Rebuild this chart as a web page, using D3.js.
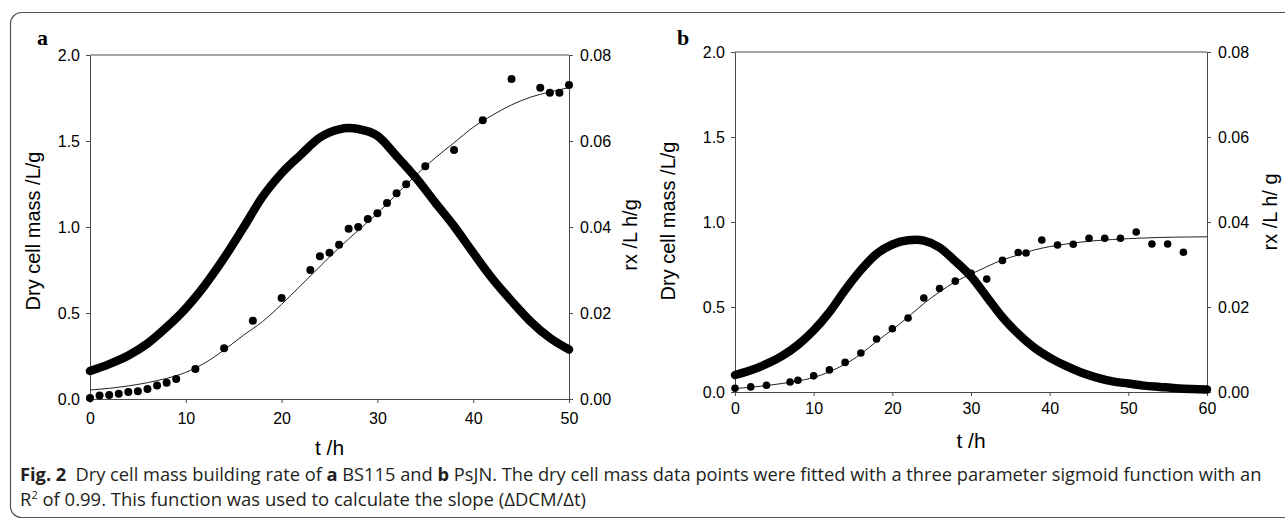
<!DOCTYPE html>
<html>
<head>
<meta charset="utf-8">
<script src="https://cdn.jsdelivr.net/npm/d3@7"></script>
<style>
	html, body { margin: 0; padding: 0; background: #fff; }
	.tick text { font-family: "Liberation Sans", Arial, sans-serif; font-size: 16px; fill: #000; }
	.axis path, .axis line { stroke: #4a4a4a; }
	.label { font-family: "Liberation Sans", Arial, sans-serif; fill: #000; }
	.caption { font-family: "Open Sans", "Noto Sans", sans-serif; fill: #231f20; }
</style>
</head>
<body>
<div class="fig"></div>
<script>
const width = 1285;
const height = 520;

// DATA ----------------------------------------------

// panel a: BS115
const dcmTimeA = [0, 1, 2, 3, 4, 5, 6, 7, 8, 9, 11, 14, 17, 20, 23, 24, 25, 26, 27, 28, 29, 30, 31, 32, 33, 35, 38, 41, 44, 47, 48, 49, 50];
const dcmA = [0.006, 0.02, 0.023, 0.03, 0.04, 0.045, 0.058, 0.078, 0.095, 0.116, 0.174, 0.295, 0.455, 0.587, 0.75, 0.83, 0.85, 0.897, 0.99, 1.0, 1.047, 1.08, 1.14, 1.196, 1.248, 1.353, 1.448, 1.62, 1.86, 1.81, 1.78, 1.78, 1.826];
const fitTimeA = [0, 2, 4, 6, 8, 10, 12, 14, 16, 18, 20, 22, 24, 26, 28, 30, 32, 34, 36, 38, 40, 42, 44, 46, 48, 50];
const fitA = [0.052, 0.062, 0.076, 0.095, 0.12, 0.155, 0.21, 0.285, 0.37, 0.45, 0.55, 0.66, 0.77, 0.88, 0.98, 1.08, 1.19, 1.30, 1.40, 1.49, 1.58, 1.65, 1.71, 1.755, 1.785, 1.81];
const rxTimeA = [0, 2, 4, 6, 8, 10, 12, 14, 16, 18, 20, 22, 24, 26, 27, 28, 30, 32, 34, 36, 38, 40, 42, 44, 46, 48, 50];
const rxA = [0.0065, 0.0081, 0.0101, 0.0129, 0.0167, 0.0211, 0.0265, 0.0328, 0.0398, 0.047, 0.0525, 0.0568, 0.0608, 0.0627, 0.063, 0.0628, 0.0612, 0.0565, 0.0515, 0.0458, 0.0402, 0.034, 0.028, 0.0228, 0.018, 0.0142, 0.0115];

// panel b: PsJN
const dcmTimeB = [0, 2, 4, 7, 8, 10, 12, 14, 16, 18, 20, 22, 24, 26, 28, 30, 32, 34, 36, 37, 39, 41, 43, 45, 47, 49, 51, 53, 55, 57];
const dcmB = [0.022, 0.03, 0.04, 0.059, 0.069, 0.095, 0.13, 0.174, 0.229, 0.312, 0.372, 0.435, 0.553, 0.609, 0.652, 0.698, 0.664, 0.774, 0.821, 0.818, 0.894, 0.865, 0.869, 0.904, 0.904, 0.904, 0.941, 0.871, 0.871, 0.822];
const fitTimeB = [0, 2, 4, 6, 8, 10, 12, 14, 16, 18, 20, 22, 24, 26, 28, 30, 32, 34, 36, 38, 40, 42, 44, 46, 48, 50, 52, 54, 56, 58, 60];
const fitB = [0.02, 0.028, 0.038, 0.05, 0.065, 0.085, 0.119, 0.164, 0.223, 0.298, 0.366, 0.441, 0.52, 0.589, 0.648, 0.694, 0.737, 0.777, 0.806, 0.835, 0.855, 0.87, 0.882, 0.891, 0.897, 0.902, 0.906, 0.909, 0.911, 0.912, 0.913];
const rxTimeB = [0, 2, 4, 6, 8, 10, 12, 14, 16, 18, 20, 22, 23, 24, 26, 28, 30, 32, 34, 36, 38, 40, 42, 44, 46, 48, 50, 52, 54, 56, 58, 60];
const rxB = [0.004, 0.0051, 0.0066, 0.0085, 0.0111, 0.0145, 0.0188, 0.024, 0.0287, 0.0325, 0.0347, 0.0357, 0.0358, 0.0356, 0.034, 0.0308, 0.0272, 0.0224, 0.0176, 0.0137, 0.0105, 0.0081, 0.0062, 0.0046, 0.0034, 0.0025, 0.002, 0.0015, 0.0012, 0.0009, 0.0007, 0.0006];

// ticks
const xTicksA = [0, 10, 20, 30, 40, 50];
const xTicksB = [0, 10, 20, 30, 40, 50, 60];
const dcmTicks = [0, 0.5, 1.0, 1.5, 2.0];
const rxTicks = [0, 0.02, 0.04, 0.06, 0.08];

const zip = (xs, ys) => xs.map((x, i) => ({t: x, v: ys[i]}));

// CHART INIT ----------------------------------------

const svg = d3.select('.fig').append('svg')
	.attr('width', width)
	.attr('height', height);

svg.append('rect')
	.attr('x', 10.5)
	.attr('y', 12.5)
	.attr('width', 1300)
	.attr('height', 505)
	.attr('rx', 11)
	.attr('fill', 'none')
	.attr('stroke', '#555')
	.attr('stroke-width', 1.2);

// PANEL DRAW FUNCTION -------------------------------

function drawPanel(p) {
	const x = d3.scaleLinear().domain([0, p.tMax]).range([p.left, p.right]);
	const yL = d3.scaleLinear().domain([0, 2]).range([p.bottom, p.top]);
	const yR = d3.scaleLinear().domain([0, 0.08]).range([p.bottom, p.top]);

	const g = svg.append('g');

	// top frame line
	g.append('line')
		.attr('x1', x(0)).attr('x2', x(p.tMax))
		.attr('y1', yL(2)).attr('y2', yL(2))
		.attr('stroke', '#4a4a4a');

	g.append('g')
		.attr('class', 'axis')
		.attr('transform', `translate(0, ${p.bottom})`)
		.call(d3.axisBottom(x).tickValues(p.xTicks).tickFormat(d3.format('d')).tickSize(4).tickSizeOuter(0).tickPadding(p.xPad));

	g.append('g')
		.attr('class', 'axis')
		.attr('transform', `translate(${p.left}, 0)`)
		.call(d3.axisLeft(yL).tickValues(dcmTicks).tickFormat(d3.format('.1f')).tickSize(4).tickSizeOuter(0).tickPadding(6));

	g.append('g')
		.attr('class', 'axis')
		.attr('transform', `translate(${p.right}, 0)`)
		.call(d3.axisRight(yR).tickValues(rxTicks).tickFormat(d3.format('.2f')).tickSize(4).tickSizeOuter(0).tickPadding(7));

	// sigmoid fit
	g.append('path')
		.datum(zip(p.fitTime, p.fit))
		.attr('fill', 'none')
		.attr('stroke', '#222')
		.attr('stroke-width', 1)
		.attr('d', d3.line().x(d => x(d.t)).y(d => yL(d.v)).curve(d3.curveMonotoneX));

	// dry cell mass points
	g.selectAll('.dcm')
		.data(zip(p.dcmTime, p.dcm))
		.enter()
		.append('circle')
		.attr('class', 'dcm')
		.attr('cx', d => x(d.t))
		.attr('cy', d => yL(d.v))
		.attr('r', p.r)
		.attr('fill', '#000');

	// rx, drawn as dense dots in the original -> thick line
	g.append('path')
		.datum(zip(p.rxTime, p.rx))
		.attr('fill', 'none')
		.attr('stroke', '#000')
		.attr('stroke-width', 8.5)
		.attr('stroke-linecap', 'round')
		.attr('stroke-linejoin', 'round')
		.attr('d', d3.line().x(d => x(d.t)).y(d => yR(d.v)).curve(d3.curveMonotoneX));

	// labels
	g.append('text')
		.attr('class', 'label')
		.attr('x', p.tagX)
		.attr('y', 45)
		.attr('font-weight', 'bold')
		.attr('font-size', 22)
		.style('font-family', '"Liberation Serif", "DejaVu Serif", serif')
		.text(p.tag);

	g.append('text')
		.attr('class', 'label')
		.attr('transform', `translate(${p.yLabelX}, ${p.yLabelY}) rotate(-90)`)
		.attr('text-anchor', 'middle')
		.attr('font-size', 20)
		.text('Dry cell mass /L/g');

	g.append('text')
		.attr('class', 'label')
		.attr('transform', `translate(${p.rLabelX}, ${p.rLabelY}) rotate(-90)`)
		.attr('text-anchor', 'middle')
		.attr('font-size', 20)
		.text(p.rLabel);

	g.append('text')
		.attr('class', 'label')
		.attr('x', (p.left + p.right) / 2)
		.attr('y', p.bottom + 56)
		.attr('text-anchor', 'middle')
		.attr('font-size', 21)
		.text('t /h');
}

drawPanel({
	tag: 'a', tagX: 37, tMax: 50, xTicks: xTicksA, xPad: 10, r: 4,
	left: 90, right: 569, top: 55, bottom: 399,
	yLabelX: 40, yLabelY: 231, rLabelX: 637, rLabelY: 235, rLabel: 'rx /L h/g',
	dcmTime: dcmTimeA, dcm: dcmA, fitTime: fitTimeA, fit: fitA, rxTime: rxTimeA, rx: rxA
});

drawPanel({
	tag: 'b', tagX: 677, tMax: 60, xTicks: xTicksB, xPad: 7, r: 3.8,
	left: 735, right: 1207, top: 52, bottom: 392,
	yLabelX: 675, yLabelY: 221, rLabelX: 1277, rLabelY: 212, rLabel: 'rx /L h/ g',
	dcmTime: dcmTimeB, dcm: dcmB, fitTime: fitTimeB, fit: fitB, rxTime: rxTimeB, rx: rxB
});

// CAPTION -------------------------------------------

const cap1 = svg.append('text')
	.attr('class', 'caption')
	.attr('x', 20)
	.attr('y', 481)
	.attr('font-size', 17);
cap1.append('tspan').attr('font-weight', 'bold').text('Fig. 2');
cap1.append('tspan').text('\u2002Dry cell mass building rate of ');
cap1.append('tspan').attr('font-weight', 'bold').text('a');
cap1.append('tspan').text(' BS115 and ');
cap1.append('tspan').attr('font-weight', 'bold').text('b');
cap1.append('tspan').text(' PsJN. The dry cell mass data points were fitted with a three parameter sigmoid function with an');

const cap2 = svg.append('text')
	.attr('class', 'caption')
	.attr('x', 20)
	.attr('y', 506)
	.attr('font-size', 17);
cap2.append('tspan').text('R');
cap2.append('tspan').attr('font-size', 11).attr('dy', -7).text('2');
cap2.append('tspan').attr('dy', 7).text(' of 0.99. This function was used to calculate the slope (\u0394DCM/\u0394t)');

// fit caption lines to the measured widths
[[cap1, 1242], [cap2, 567]].forEach(([t, w]) => {
	const len = t.node().getComputedTextLength();
	t.attr('font-size', 17 * w / len);
});
cap2.select('tspan:nth-child(2)').attr('font-size', 11);
</script>
</body>
</html>
